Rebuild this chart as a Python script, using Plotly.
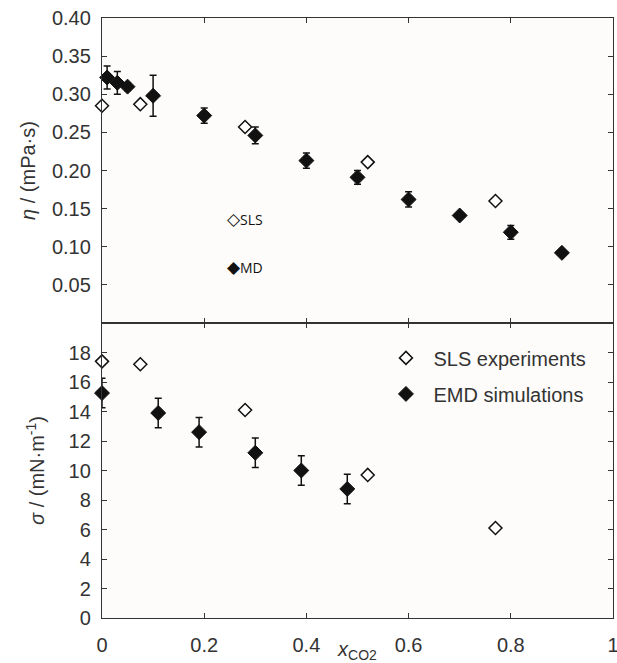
import plotly.graph_objects as go

# Viscosity panel (top)
sls_eta_x = [0.0, 0.075, 0.28, 0.52, 0.77]
sls_eta_y = [0.285, 0.287, 0.257, 0.211, 0.160]

md_eta_x = [0.01, 0.03, 0.05, 0.10, 0.20, 0.30, 0.40, 0.50, 0.60, 0.70, 0.80, 0.90]
md_eta_y = [0.322, 0.315, 0.310, 0.298, 0.272, 0.246, 0.213, 0.191, 0.162, 0.141, 0.119, 0.092]
md_eta_err = [0.015, 0.015, 0.005, 0.027, 0.010, 0.011, 0.010, 0.009, 0.010, 0.003, 0.009, 0.002]

# Surface tension panel (bottom)
sls_sig_x = [0.0, 0.075, 0.28, 0.52, 0.77]
sls_sig_y = [17.4, 17.2, 14.1, 9.7, 6.1]

emd_sig_x = [0.0, 0.11, 0.19, 0.30, 0.39, 0.48]
emd_sig_y = [15.25, 13.9, 12.6, 11.2, 10.0, 8.75]
emd_sig_err = [1.0, 1.0, 1.0, 1.0, 1.0, 1.0]

eta_ticks = [0.05, 0.10, 0.15, 0.20, 0.25, 0.30, 0.35, 0.40]
sig_ticks = [0, 2, 4, 6, 8, 10, 12, 14, 16, 18]
x_ticks = [0, 0.2, 0.4, 0.6, 0.8, 1]

AX = "#333333"
FONT = dict(family="Liberation Sans, Arial, sans-serif", size=20, color="#333333")

SPLIT = 295 / 600  # boundary between panels (paper fraction)

fig = go.Figure()

open_marker = dict(symbol="diamond", size=10, color="white",
                   line=dict(color="#111111", width=1.5))
fill_marker = dict(symbol="diamond", size=11.5, color="#111111",
                   line=dict(color="#111111", width=1))
err_style = dict(type="data", color="#111111", thickness=1.5, width=3.5)

fig.add_trace(go.Scatter(x=sls_eta_x, y=sls_eta_y, mode="markers", marker=open_marker,
                         showlegend=False, cliponaxis=False, xaxis="x2", yaxis="y2"))
fig.add_trace(go.Scatter(x=md_eta_x, y=md_eta_y, mode="markers", marker=fill_marker,
                         error_y=dict(array=md_eta_err, **err_style),
                         showlegend=False, cliponaxis=False, xaxis="x2", yaxis="y2"))

fig.add_trace(go.Scatter(x=sls_sig_x, y=sls_sig_y, mode="markers", marker=open_marker,
                         name="SLS experiments", legendgroup="a", cliponaxis=False,
                         xaxis="x", yaxis="y"))
fig.add_trace(go.Scatter(x=emd_sig_x, y=emd_sig_y, mode="markers", marker=fill_marker,
                         error_y=dict(array=emd_sig_err, **err_style),
                         name="EMD simulations", legendgroup="b", cliponaxis=False,
                         xaxis="x", yaxis="y"))

axis_common = dict(showline=True, linecolor=AX, linewidth=1.3, mirror="ticks",
                   ticks="inside", ticklen=5, tickwidth=1.2, tickcolor=AX,
                   showgrid=False, zeroline=False, tickfont=FONT, automargin=False)

fig.update_layout(
    xaxis=dict(range=[0, 1], tickvals=x_ticks, domain=[0, 1], anchor="y",
               ticklabelstandoff=9, ticklabeloverflow="allow",
               title=dict(text="<i>x</i><sub>CO2</sub>", font=FONT, standoff=0),
               **axis_common),
    yaxis=dict(range=[0, 20], tickvals=sig_ticks, domain=[0, SPLIT], anchor="x",
               ticklabelstandoff=6,
               title=dict(text="<i>σ</i> / (mN·m<sup>-1</sup>)", font=FONT, standoff=18),
               **axis_common),
    xaxis2=dict(range=[0, 1], tickvals=x_ticks, domain=[0, 1], anchor="y2",
                matches="x", showticklabels=False, **axis_common),
    yaxis2=dict(range=[0, 0.40], tickvals=eta_ticks, tickformat=".2f",
                domain=[SPLIT, 1], anchor="x2", ticklabelstandoff=6,
                title=dict(text="<i>η</i> / (mPa·s)", font=FONT, standoff=10),
                **axis_common),
)

small = dict(family="Open Sans, Lato, sans-serif", size=14, color="#111111")
fig.add_annotation(xref="paper", yref="paper", x=(225 - 102) / 511, y=(618 - 219) / 600,
                   text="<span style='font-size:17px'>◇</span>SLS", showarrow=False,
                   xanchor="left", yanchor="middle", font=small)
fig.add_annotation(xref="paper", yref="paper", x=(225 - 102) / 511, y=(618 - 266) / 600,
                   text="<span style='font-size:17px'>◆</span>MD", showarrow=False,
                   xanchor="left", yanchor="middle", font=small)

fig.update_layout(
    width=617, height=663,
    margin=dict(l=102, r=4, t=18, b=45),
    paper_bgcolor="white",
    plot_bgcolor="#fdfcfa",
    font=FONT,
    legend=dict(x=0.541, y=0.466, xanchor="left", yanchor="top",
                bgcolor="rgba(0,0,0,0)", font=dict(size=20, color="#333333"),
                traceorder="grouped", tracegroupgap=7, itemwidth=45),
)

fig.write_html("out.html", config={"displayModeBar": False},
               post_script="document.body.style.margin='0';")
